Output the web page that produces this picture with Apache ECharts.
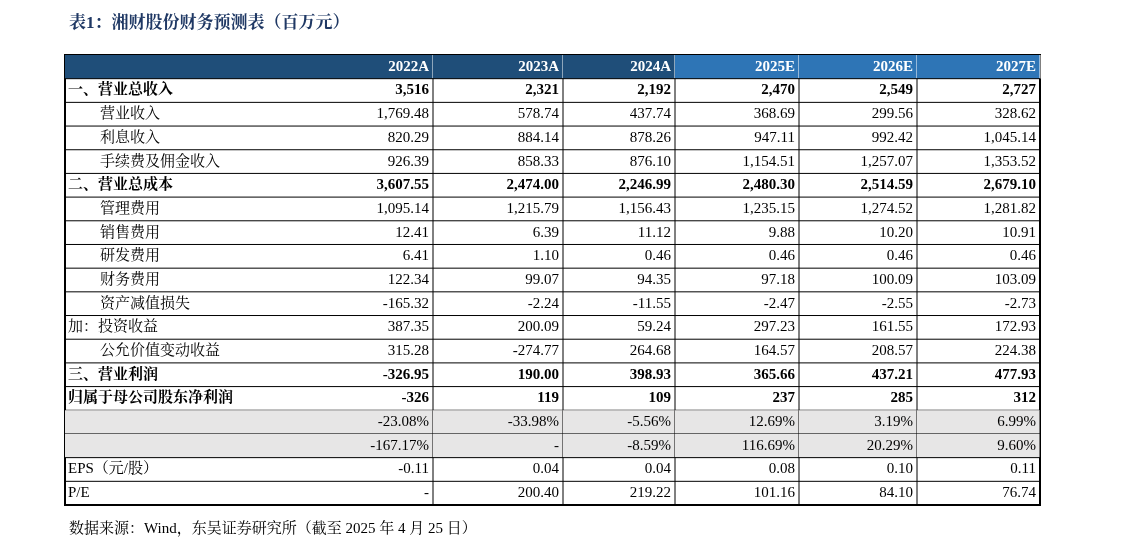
<!DOCTYPE html>
<html><head><meta charset="utf-8">
<script src="https://cdn.jsdelivr.net/npm/echarts@6/dist/echarts.min.js"></script>
<style>html,body{margin:0;background:#fff}#c{width:1131px;height:555px}</style>
</head><body><div id="c"></div>
<script>
const headers = ['单位：百万元','2022A','2023A','2024A','2025E','2026E','2027E'];
const rowLabels = ['一、营业总收入','营业收入','利息收入','手续费及佣金收入','二、营业总成本','管理费用','销售费用','研发费用','财务费用','资产减值损失','加：投资收益','公允价值变动收益','三、营业利润','归属于母公司股东净利润','营业总收入增速','归属于母公司股东净利润增速','EPS（元/股）','P/E'];
const v2022 = ['3,516','1,769.48','820.29','926.39','3,607.55','1,095.14','12.41','6.41','122.34','-165.32','387.35','315.28','-326.95','-326','-23.08%','-167.17%','-0.11','-'];
const v2023 = ['2,321','578.74','884.14','858.33','2,474.00','1,215.79','6.39','1.10','99.07','-2.24','200.09','-274.77','190.00','119','-33.98%','-','0.04','200.40'];
const v2024 = ['2,192','437.74','878.26','876.10','2,246.99','1,156.43','11.12','0.46','94.35','-11.55','59.24','264.68','398.93','109','-5.56%','-8.59%','0.04','219.22'];
const v2025 = ['2,470','368.69','947.11','1,154.51','2,480.30','1,235.15','9.88','0.46','97.18','-2.47','297.23','164.57','365.66','237','12.69%','116.69%','0.08','101.16'];
const v2026 = ['2,549','299.56','992.42','1,257.07','2,514.59','1,274.52','10.20','0.46','100.09','-2.55','161.55','208.57','437.21','285','3.19%','20.29%','0.10','84.10'];
const v2027 = ['2,727','328.62','1,045.14','1,353.52','2,679.10','1,281.82','10.91','0.46','103.09','-2.73','172.93','224.38','477.93','312','6.99%','9.60%','0.11','76.74'];
const boldRows = [0,4,12,13];
const indentRows = [1,2,3,5,6,7,8,9,11];
const greyRows = [14,15];
const cols = [v2022,v2023,v2024,v2025,v2026,v2027];
const edges = [0,368,498,610,734,852,975];

const rowsAll = ['header'].concat(rowLabels);
const data = [];
for (let r=0;r<rowsAll.length;r++){
  data.push([0,r,r===0?headers[0]:rowLabels[r-1]]);
  for (let c=0;c<6;c++) data.push([c+1,r,r===0?headers[c+1]:cols[c][r-1]]);
}
const serif = '"Liberation Serif","Noto Serif CJK SC","Noto Sans CJK SC",serif';
function renderItem(params, api){
  const c = api.value(0), r = api.value(1), txt = api.value(2);
  const band = api.size([0,1])[1];
  const yc = api.coord([0,r])[1];
  const y0 = yc - band/2;
  let x0, x1;
  if (c===0){ x0 = api.coord([edges[0],0])[0]; x1 = api.coord([edges[1],0])[0]; }
  else { x0 = api.coord([edges[c-1]===undefined?0:(c===1?edges[0]:edges[c-1]),0])[0]; x1 = api.coord([edges[c],0])[0]; }
  const kids = [];
  const dr = r-1;
  if (c>0){
    let fill = null;
    if (r===0) fill = c<=3 ? '#1f4e79' : '#2e75b6';
    else if (greyRows.includes(dr)) fill = '#e7e6e6';
    const bx0 = c===1 ? api.coord([0,0])[0] : x0;
    if (fill) kids.push({type:'rect',shape:{x:bx0,y:y0,width:x1-bx0,height:band},style:{fill:fill}});
    // right border
    kids.push({type:'line',shape:{x1:x1,y1:y0,x2:x1,y2:y0+band},style:{stroke:r===0?'#ffffff':'#000',lineWidth:1}});
    kids.push({type:'line',shape:{x1:bx0,y1:y0+band,x2:x1,y2:y0+band},style:{stroke:'#000',lineWidth:1}});
  }
  const isBold = r===0 || boldRows.includes(dr);
  const color = r===0 ? '#fff' : '#000';
  if (c===0){
    const ind = (r>0 && indentRows.includes(dr)) ? 35 : 3;
    kids.push({type:'text',style:{x:x0+ind,y:yc,text:txt,fill:color,font:(isBold?'bold ':'')+'15px '+serif,textAlign:'left',textVerticalAlign:'middle'}});
  } else {
    kids.push({type:'text',style:{x:x1-4,y:yc,text:txt,fill:color,font:(isBold?'bold ':'')+'15px '+serif,textAlign:'right',textVerticalAlign:'middle'}});
  }
  return {type:'group',children:kids};
}
const chart = echarts.init(document.getElementById('c'));
chart.setOption({
  animation:false,
  title:[{text:'表1：湘财股份财务预测表（百万元）',left:64,top:10,textStyle:{fontFamily:serif,fontSize:17,fontWeight:'bold',color:'#1f3864'}},
         {text:'数据来源：Wind，东吴证券研究所（截至 2025 年 4 月 25 日）',left:64,top:517,textStyle:{fontFamily:serif,fontSize:15,fontWeight:'normal',color:'#000'}}],
  grid:{left:65,right:91,top:55,bottom:50,show:true,borderColor:'#000',borderWidth:2},
  xAxis:{type:'value',min:0,max:975,show:false},
  yAxis:{type:'category',data:rowsAll,inverse:true,show:false},
  series:[{type:'custom',renderItem:renderItem,data:data,encode:{x:0,y:1}}]
});
</script></body></html>
